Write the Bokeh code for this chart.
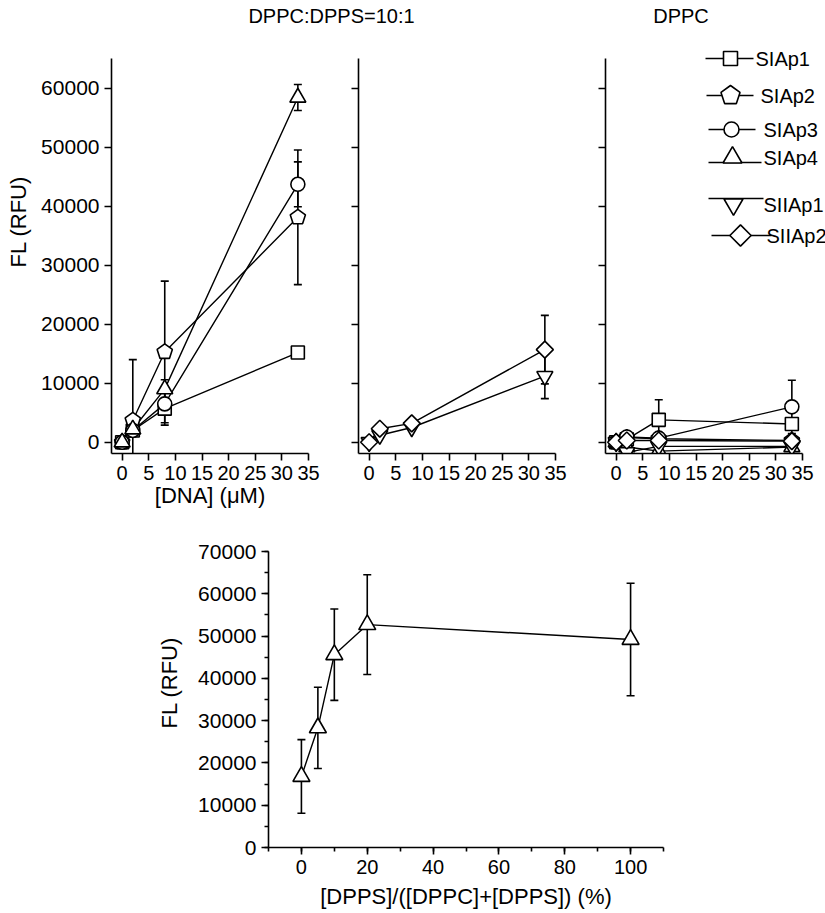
import numpy as np
from bokeh.plotting import figure
from bokeh.layouts import column, row
from bokeh.models import (Range1d, FixedTicker, SingleIntervalTicker, Title,
                          NumeralTickFormatter, CustomJSTickFormatter)
from bokeh.embed import file_html
from bokeh.resources import INLINE
from bokeh.core.properties import value

FONT = "Liberation Sans"

# ---------------- data ----------------
dna = [0, 2, 8, 33]

# DPPC:DPPS = 10:1
mix_SIAp1 = [0, 2000, 5700, 15200]
mix_SIAp1_err = [0, 0, 2800, 500]
mix_SIAp2 = [0, 3700, 15300, 38100]
mix_SIAp2_err = [0, 10300, 12000, 11400]
mix_SIAp3 = [0, 2000, 6500, 43700]
mix_SIAp3_err = [0, 0, 1000, 3800]
mix_SIAp4 = [0, 2200, 9000, 58400]
mix_SIAp4_err = [0, 0, 1600, 2200]
mix_SIIAp1 = [0, 1200, 2500, 11200]
mix_SIIAp1_err = [0, 0, 0, 3800]
mix_SIIAp2 = [0, 2300, 3200, 15700]
mix_SIIAp2_err = [0, 700, 0, 5800]

# DPPC
pc_SIAp1 = [0, 500, 3800, 3100]
pc_SIAp1_err = [0, 0, 3400, 0]
pc_SIAp2 = [0, 800, 600, 300]
pc_SIAp2_err = [0, 0, 0, 0]
pc_SIAp3 = [0, 900, 700, 6000]
pc_SIAp3_err = [0, 0, 800, 4500]
pc_SIAp4 = [0, -800, -1500, -800]
pc_SIAp4_err = [0, 0, 0, 0]
pc_SIIAp1 = [0, -1700, -700, -700]
pc_SIIAp1_err = [0, 0, 0, 0]
pc_SIIAp2 = [0, 300, 300, 200]
pc_SIIAp2_err = [0, 0, 0, 0]

# bottom panel
dpps_pct = [0, 5, 10, 20, 100]
fl_SIAp4 = [16800, 28300, 45600, 52700, 49200]
fl_SIAp4_err = [8700, 9600, 10800, 11800, 13300]

x_ticks_top = [0, 5, 10, 15, 20, 25, 30, 35]
y_ticks_top = [0, 10000, 20000, 30000, 40000, 50000, 60000]

series_marker = {"SIAp1": "square", "SIAp2": "pentagon", "SIAp3": "circle",
                 "SIAp4": "triangle", "SIIAp1": "inverted_triangle", "SIIAp2": "diamond"}
marker_size = {"square": 13, "pentagon": 8, "circle": 14, "triangle": 16,
               "inverted_triangle": 16, "diamond": 12}

# ---------------- layout constants ----------------
FW, FH = 197, 395          # nominal panel frame (axis extent) in px
EXTRA_TOP = 18             # frame extends above the axis end
X0, X1 = -2, 35
Y0, Y1 = -1900, 65000
XPX = FW / (X1 - X0)
YPX = FH / (Y1 - Y0)
YTOP = Y0 + (FH + EXTRA_TOP) / YPX
LW = 1.6
DLW = 1.4


def style(p):
    p.grid.visible = False
    p.outline_line_color = None
    for ax in p.axis:
        ax.axis_line_width = LW
        ax.axis_line_color = "black"
        ax.major_tick_line_width = LW
        ax.minor_tick_line_width = LW
        ax.major_tick_line_color = "black"
        ax.minor_tick_line_color = "black"
        ax.major_tick_out = 7
        ax.major_tick_in = 0
        ax.minor_tick_out = 4
        ax.minor_tick_in = 0
        ax.major_label_text_font = FONT
        ax.major_label_text_color = "black"
        ax.major_label_standoff = 5
        ax.axis_label_text_font = FONT
        ax.axis_label_text_font_size = "22px"
        ax.axis_label_text_font_style = "normal"
        ax.axis_label_text_color = "black"
    p.xaxis.major_label_text_font_size = "20px"
    p.yaxis.major_label_text_font_size = "21px"


def pent(xs, ys, R, xpx, ypx):
    ang = np.deg2rad(90 + 72 * np.arange(5))
    px = [list(x + R * np.cos(ang) / xpx) for x in xs]
    py = [list(y + R * np.sin(ang) / ypx) for y in ys]
    return px, py


def draw_markers(p, xs, ys, kind, size, xpx, ypx, **kw):
    if kind == "pentagon":
        px, py = pent(xs, ys, size, xpx, ypx)
        p.patches(px, py, fill_color="white", line_color="black", line_width=LW, **kw)
    elif kind == "diamond":
        p.scatter(xs, ys, marker="square", angle=np.pi / 4, size=size,
                  fill_color="white", line_color="black", line_width=LW, **kw)
    else:
        p.scatter(xs, ys, marker=kind, size=size, fill_color="white",
                  line_color="black", line_width=LW, **kw)


def draw_panel(p, data):
    for name, (y, e) in data.items():
        p.line(dna, y, line_color="black", line_width=DLW)
    for name, (y, e) in data.items():
        xs = [xi for xi, ei in zip(dna, e) if ei > 0]
        lo = [yi - ei for yi, ei in zip(y, e) if ei > 0]
        hi = [yi + ei for yi, ei in zip(y, e) if ei > 0]
        if xs:
            p.segment(xs, lo, xs, hi, line_color="black", line_width=LW)
            p.scatter(xs, lo, marker="dash", size=8, line_color="black", line_width=LW)
            p.scatter(xs, hi, marker="dash", size=8, line_color="black", line_width=LW)
    for name, (y, e) in data.items():
        kind = series_marker[name]
        draw_markers(p, dna, y, kind, marker_size[kind], XPX, YPX)


def top_fig(left, right, fw, labels=True):
    xend = X0 + fw / XPX
    p = figure(frame_width=fw, frame_height=FH + EXTRA_TOP, x_range=Range1d(X0, xend),
               y_range=Range1d(Y0, YTOP), output_backend="svg", toolbar_location=None,
               min_border_left=left, min_border_right=right, min_border_top=0,
               min_border_bottom=67)
    style(p)
    p.xaxis.ticker = FixedTicker(ticks=x_ticks_top)
    p.yaxis.ticker = FixedTicker(ticks=y_ticks_top)
    p.xaxis.bounds = (X0, X1)
    p.yaxis.bounds = (Y0, Y1)
    if labels:
        p.yaxis.formatter = NumeralTickFormatter(format="0")
    else:
        p.yaxis.formatter = CustomJSTickFormatter(code="return ''")
    return p


# ---------------- header ----------------
W = 825
hdr = figure(width=W, height=40, x_range=Range1d(0, W), y_range=Range1d(0, 40),
             output_backend="svg", toolbar_location=None, min_border=0,
             x_axis_location=None, y_axis_location=None)
hdr.grid.visible = False
hdr.outline_line_color = None
hdr.text(x=[331, 680.5], y=[25, 25], text=["DPPC:DPPS=10:1", "DPPC"],
         text_font=value(FONT), text_font_size=value("20px"), text_color="black",
         text_align="center", text_baseline="middle")

# ---------------- top row ----------------
p1 = top_fig(108, 25, FW, labels=True)
p1.xaxis.axis_label = "[DNA] (μM)"
p1.xaxis.axis_label_standoff = 0
p1.add_layout(Title(text="FL (RFU)", align="left", offset=186, vertical_align="top",
                    standoff=11, text_font=FONT, text_font_size="22px",
                    text_font_style="normal", text_color="black"), "left")
draw_panel(p1, {"SIAp1": (mix_SIAp1, mix_SIAp1_err), "SIAp2": (mix_SIAp2, mix_SIAp2_err),
                "SIAp3": (mix_SIAp3, mix_SIAp3_err), "SIAp4": (mix_SIAp4, mix_SIAp4_err)})

p2 = top_fig(25, 25, FW, labels=False)
draw_panel(p2, {"SIIAp1": (mix_SIIAp1, mix_SIIAp1_err), "SIIAp2": (mix_SIIAp2, mix_SIIAp2_err)})

P3W = W - 330 - 247 - 25
p3 = top_fig(25, 0, P3W, labels=False)
draw_panel(p3, {"SIAp1": (pc_SIAp1, pc_SIAp1_err), "SIAp2": (pc_SIAp2, pc_SIAp2_err),
                "SIAp3": (pc_SIAp3, pc_SIAp3_err), "SIAp4": (pc_SIAp4, pc_SIAp4_err),
                "SIIAp1": (pc_SIIAp1, pc_SIIAp1_err), "SIIAp2": (pc_SIIAp2, pc_SIIAp2_err)})

# legend, drawn in pixel coordinates of p3's frame
p3.extra_x_ranges = {"px": Range1d(0, P3W)}
p3.extra_y_ranges = {"py": Range1d(0, FH + EXTRA_TOP)}
FL, FB = 602, 453  # page position of p3 frame left / bottom
leg_rows = [  # name, marker x, marker y, line y, line x0, line x1, text x, size
    ("SIAp1", 727, 58, 58, 702, 750, 752, 14),
    ("SIAp2", 727, 95, 95, 703, 750, 757, 10),
    ("SIAp3", 728, 129, 129, 705, 752, 760, 15),
    ("SIAp4", 729, 157, 162, 705, 758, 760, 19),
    ("SIIAp1", 730, 204, 198, 705, 760, 760, 19),
    ("SIIAp2", 737, 235, 235, 708, 768, 763, 15),
]
for name, mx, my, ly, lx0, lx1, tx, sz in leg_rows:
    p3.line([lx0 - FL, lx1 - FL], [FB - ly, FB - ly], line_color="black", line_width=DLW,
            x_range_name="px", y_range_name="py")
    draw_markers(p3, [mx - FL], [FB - my], series_marker[name], sz, 1, 1,
                 x_range_name="px", y_range_name="py")
p3.text(x=[r[6] - FL for r in leg_rows], y=[FB - r[2] for r in leg_rows],
        text=[r[0] for r in leg_rows], x_range_name="px", y_range_name="py",
        text_font=value(FONT), text_font_size=value("20px"), text_color="black",
        text_align="left", text_baseline="middle")

top = row(p1, p2, p3)

# ---------------- bottom panel ----------------
p4 = figure(frame_width=395, frame_height=296, x_range=Range1d(-10, 110),
            y_range=Range1d(0, 70000), output_backend="svg", toolbar_location=None,
            min_border_left=268, min_border_right=10, min_border_top=31,
            min_border_bottom=66)
style(p4)
p4.xaxis.ticker = SingleIntervalTicker(interval=20, num_minor_ticks=2)
p4.yaxis.ticker = SingleIntervalTicker(interval=10000, num_minor_ticks=2)
p4.yaxis.formatter = NumeralTickFormatter(format="0")
p4.xaxis.axis_label = "[DPPS]/([DPPC]+[DPPS]) (%)"
p4.xaxis.axis_label_standoff = 7
p4.add_layout(Title(text="FL (RFU)", align="left", offset=119, vertical_align="middle",
                    standoff=25, text_font=FONT, text_font_size="22px",
                    text_font_style="normal", text_color="black"), "left")
p4.line(dpps_pct, fl_SIAp4, line_color="black", line_width=DLW)
lo = [a - b for a, b in zip(fl_SIAp4, fl_SIAp4_err)]
hi = [a + b for a, b in zip(fl_SIAp4, fl_SIAp4_err)]
p4.segment(dpps_pct, lo, dpps_pct, hi, line_color="black", line_width=LW)
p4.scatter(dpps_pct, lo, marker="dash", size=8, line_color="black", line_width=LW)
p4.scatter(dpps_pct, hi, marker="dash", size=8, line_color="black", line_width=LW)
p4.scatter(dpps_pct, fl_SIAp4, marker="triangle", size=17, fill_color="white",
           line_color="black", line_width=LW)

layout = column(hdr, top, row(p4))
open("out.html", "w").write(file_html(layout, INLINE))
